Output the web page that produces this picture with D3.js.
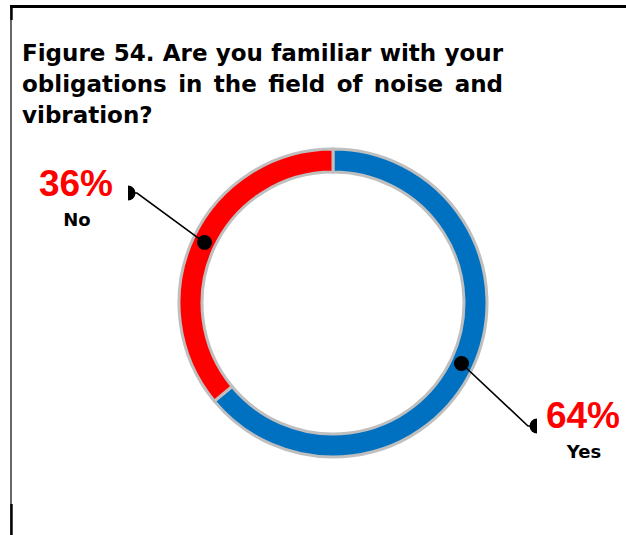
<!DOCTYPE html>
<html>
<head>
<meta charset="utf-8">
<script src="https://cdn.jsdelivr.net/npm/d3@7"></script>
<style>
  html, body { margin: 0; padding: 0; background: #fff; }
  svg { display: block; }
</style>
</head>
<body>
<svg id="chart" width="626" height="535"></svg>
<script>
// Survey answers and their shares (%)
const categories = ["Yes", "No"];
const values = [64, 36];
const valueLabels = ["64%", "36%"];
const colors = ["#0070C0", "#FF0000"];
const titleLines = [
  "Figure 54. Are you familiar with your",
  "obligations in the field of noise and",
  "vibration?"
];

const svg = d3.select("#chart");
const W = 626, H = 535;
const titleFont = "'DejaVu Sans', sans-serif";
const valueFont = "'Liberation Sans', Arial, sans-serif";

// Frame: top rule and left rule
svg.append("line").attr("x1", 10).attr("x2", W).attr("y1", 6.5).attr("y2", 6.5)
  .attr("stroke", "#000").attr("stroke-width", 3);
svg.append("line").attr("x1", 11).attr("x2", 11).attr("y1", 5).attr("y2", H)
  .attr("stroke", "#000").attr("stroke-width", 1.2);
svg.append("line").attr("x1", 11.5).attr("x2", 11.5).attr("y1", 5).attr("y2", 20)
  .attr("stroke", "#000").attr("stroke-width", 2.4);
svg.append("line").attr("x1", 11.5).attr("x2", 11.5).attr("y1", 504).attr("y2", H)
  .attr("stroke", "#000").attr("stroke-width", 2.4);

// Title, justified between left and right margins except the last line
const tx0 = 22, tx1 = 503;
const baselines = [61, 92, 123];
const title = svg.append("g").attr("font-family", titleFont)
  .attr("font-weight", "bold").attr("font-size", 23).attr("fill", "#000");
titleLines.forEach((line, i) => {
  const words = line.split(" ");
  const t = title.append("text").attr("y", baselines[i]);
  const spans = words.map(w => t.append("tspan").text(w));
  const widths = spans.map(s => s.node().getComputedTextLength());
  const total = d3.sum(widths);
  const justify = i < titleLines.length - 1;
  const gap = justify ? (tx1 - tx0 - total) / (words.length - 1) : 7;
  let x = tx0;
  spans.forEach((s, j) => { s.attr("x", x); x += widths[j] + gap; });
});

// Donut
const cx = 333, cy = 303;
const rIn = 131, rOut = 154;
const pie = d3.pie().sort(null).value(d => d)
  .startAngle(0).endAngle(2 * Math.PI);
const arcs = pie(values);
const arc = d3.arc().innerRadius(rIn).outerRadius(rOut);
const g = svg.append("g").attr("transform", `translate(${cx},${cy})`);
g.selectAll("path.slice").data(arcs).enter().append("path")
  .attr("class", "slice")
  .attr("d", arc)
  .attr("fill", (d, i) => colors[i])
  .attr("stroke", "#BFBFBF")
  .attr("stroke-width", 3)
  .attr("stroke-linejoin", "miter");

// Leader lines with end markers and labels
const rDot = (rIn + rOut) / 2 - 0.5;
const labelPos = [
  { end: [537, 426], side: "right", tx: 583, ty1: 428, ty2: 458 },
  { end: [128, 193], side: "left", tx: 76, ty1: 196, ty2: 226 }
];
arcs.forEach((d, i) => {
  const a = (d.startAngle + d.endAngle) / 2;
  const px = cx + rDot * Math.sin(a), py = cy - rDot * Math.cos(a);
  const L = labelPos[i];
  const ex = L.end[0], ey = L.end[1];
  const knee = L.side === "right" ? [ex - 9, ey] : [ex + 9, ey];
  svg.append("path")
    .attr("d", d3.line()([[px, py], knee, [ex, ey]]))
    .attr("fill", "none").attr("stroke", "#000").attr("stroke-width", 1.6);
  svg.append("circle").attr("cx", px).attr("cy", py).attr("r", 7.5).attr("fill", "#000");
  // half-disc marker, flat edge toward the label
  const half = d3.arc().innerRadius(0).outerRadius(7.5)
    .startAngle(L.side === "right" ? Math.PI : 0)
    .endAngle(L.side === "right" ? 2 * Math.PI : Math.PI);
  svg.append("path").attr("d", half())
    .attr("transform", `translate(${ex},${ey})`)
    .attr("fill", "#000");

  svg.append("text").attr("x", L.tx).attr("y", L.ty1)
    .attr("text-anchor", "middle").attr("font-family", valueFont)
    .attr("font-weight", "bold").attr("font-size", 37).attr("fill", "#FF0000")
    .text(valueLabels[i]);
  svg.append("text").attr("x", L.tx + 1).attr("y", L.ty2)
    .attr("text-anchor", "middle").attr("font-family", titleFont)
    .attr("font-weight", "bold").attr("font-size", 18).attr("fill", "#000")
    .text(categories[i]);
});
</script>
</body>
</html>
